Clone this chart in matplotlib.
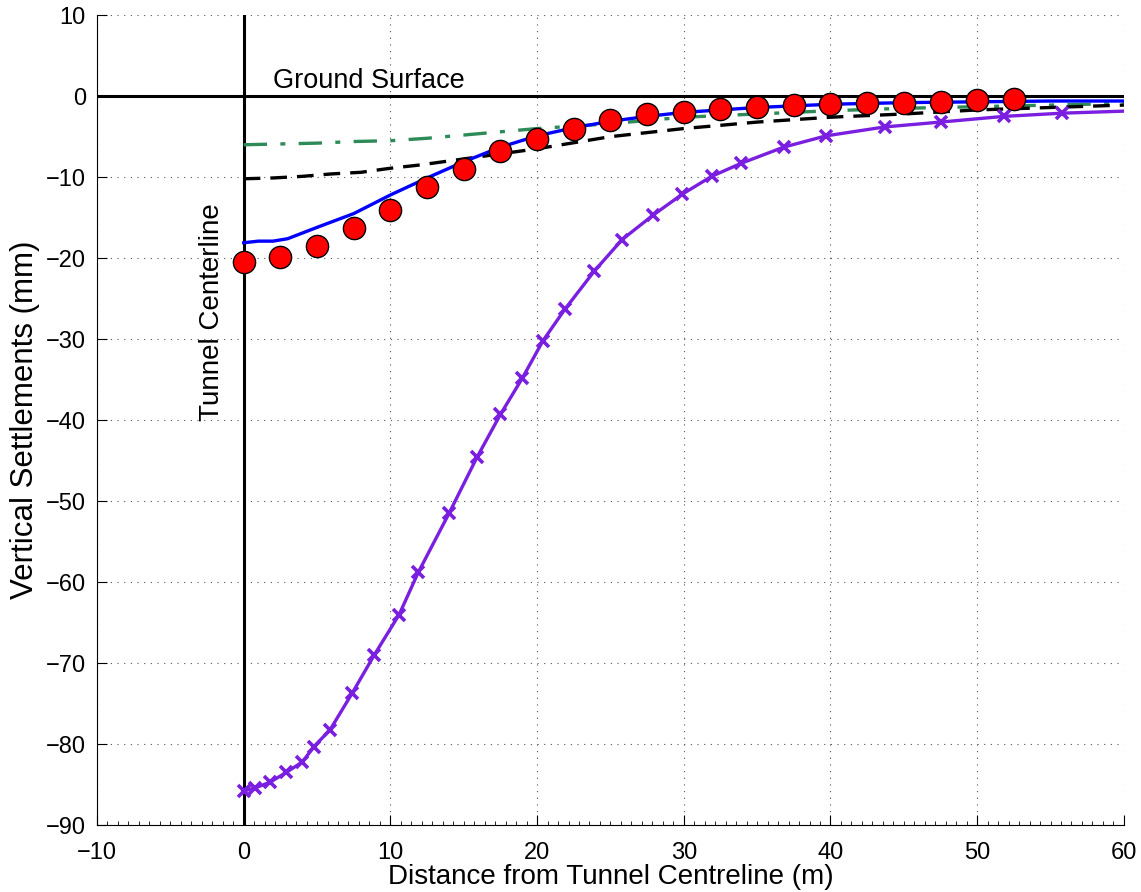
import matplotlib
matplotlib.use("Agg")
import matplotlib.pyplot as plt
from matplotlib.ticker import MultipleLocator, FuncFormatter

plt.rcParams['font.family'] = ['Liberation Sans', 'DejaVu Sans']

# measured settlements (circles)
meas_x = [0, 2.5, 5, 7.5, 10, 12.5, 15, 17.5, 20, 22.5, 25, 27.5, 30, 32.5,
          35, 37.5, 40, 42.5, 45, 47.5, 50, 52.5]
meas_y = [-20.5, -19.9, -18.5, -16.3, -14.0, -11.2, -9.0, -6.8, -5.3, -4.0,
          -2.9, -2.2, -2.0, -1.6, -1.4, -1.1, -1.0, -0.9, -0.9, -0.7, -0.5, -0.3]

# predicted settlement curves
blue_x = [0, 1, 2, 3, 5, 7.5, 10, 12.5, 15, 17.5, 20, 22.5, 25, 27.5, 30,
          35, 40, 45, 50, 55, 60]
blue_y = [-18.1, -17.9, -17.9, -17.6, -16.2, -14.5, -12.2, -10.1, -8.1, -6.3,
          -4.9, -3.9, -3.1, -2.5, -2.0, -1.4, -1.0, -0.8, -0.7, -0.6, -0.6]

black_x = [0, 2, 4, 6, 8, 10, 12, 14, 16, 18, 20, 25, 30, 35, 40, 45, 50, 55, 60]
black_y = [-10.2, -10.1, -9.9, -9.6, -9.4, -8.9, -8.5, -8.0, -7.5, -7.0, -6.5,
           -5.0, -4.0, -3.2, -2.6, -2.2, -1.7, -1.4, -1.1]

green_x = [0, 2.5, 5, 7.5, 10, 12.5, 15, 17.5, 20, 25, 30, 35, 40, 45, 50, 55, 60]
green_y = [-6.0, -5.9, -5.8, -5.6, -5.5, -5.2, -4.8, -4.4, -4.0, -3.4, -2.6,
           -2.2, -1.8, -1.5, -1.3, -1.1, -0.9]

purple_x = [0, 0.8, 1.8, 2.9, 4.0, 4.8, 5.9, 7.4, 8.9, 10.6, 11.9, 14.0, 15.9,
            17.5, 19.0, 20.4, 21.9, 23.9, 25.8, 27.9, 29.9, 31.9, 33.9, 36.8,
            39.7, 43.7, 47.5, 51.8, 55.8, 60]
purple_y = [-85.8, -85.4, -84.7, -83.5, -82.2, -80.3, -78.2, -73.7, -69.0,
            -64.0, -58.8, -51.5, -44.6, -39.3, -34.8, -30.2, -26.3, -21.6,
            -17.7, -14.7, -12.1, -9.9, -8.3, -6.3, -4.9, -3.8, -3.2, -2.5,
            -2.1, -1.85]


def fmt(v, pos):
    return ('\u2212%d' % -v) if v < 0 else '%d' % v


fig = plt.figure(figsize=(11.41, 8.92), dpi=100)
ax = fig.add_axes([0.085, 0.075, 0.9, 0.908])

ax.plot([-10, 60], [0, 0], color='black', lw=2.2, zorder=3)
ax.plot([0, 0], [-90, 10], color='black', lw=2.2, zorder=3)

ax.plot(green_x, green_y, color='#2E8B57', lw=2.4, dashes=(7, 4, 1.5, 4), zorder=4)
ax.plot(black_x, black_y, color='black', lw=2.4, dashes=(5, 3), zorder=4)
ax.plot(blue_x, blue_y, color='#0000FF', lw=2.4, zorder=5)
ax.plot(purple_x, purple_y, color='#7A1FE0', lw=2.4, marker='x', ms=8, mew=2.6,
        markevery=list(range(len(purple_x) - 1)), zorder=5)
ax.plot(meas_x, meas_y, 'o', color='red', ms=16, mec='black', mew=1.0, zorder=6)

ax.text(2.0, 0.3, 'Ground Surface', fontsize=19.5, ha='left', va='bottom')
ax.text(-1.3, -26.7, 'Tunnel Centerline', fontsize=20, rotation=90,
        ha='right', va='center')

ax.set_xlim(-10, 60)
ax.set_ylim(-90, 10)
ax.xaxis.set_major_locator(MultipleLocator(10))
ax.xaxis.set_minor_locator(MultipleLocator(10 / 14))
ax.yaxis.set_major_locator(MultipleLocator(10))
ax.xaxis.set_major_formatter(FuncFormatter(fmt))
ax.yaxis.set_major_formatter(FuncFormatter(fmt))
ax.tick_params(axis='both', which='major', direction='in', length=7,
               labelsize=17, width=0.8)
ax.tick_params(axis='x', which='minor', direction='in', length=3, width=0.6)
ax.tick_params(axis='x', which='major', pad=12)
ax.tick_params(axis='y', which='major', pad=8)

ax.spines['top'].set_visible(False)
ax.spines['right'].set_visible(False)
ax.grid(True, which='major', color='#555555', lw=0.8, linestyle=(0, (1, 5)))

ax.set_xlabel('Distance from Tunnel Centreline (m)', fontsize=20, labelpad=0)
ax.set_ylabel('Vertical Settlements (mm)', fontsize=22.5, labelpad=4)

fig.savefig('out.png', dpi=100)
